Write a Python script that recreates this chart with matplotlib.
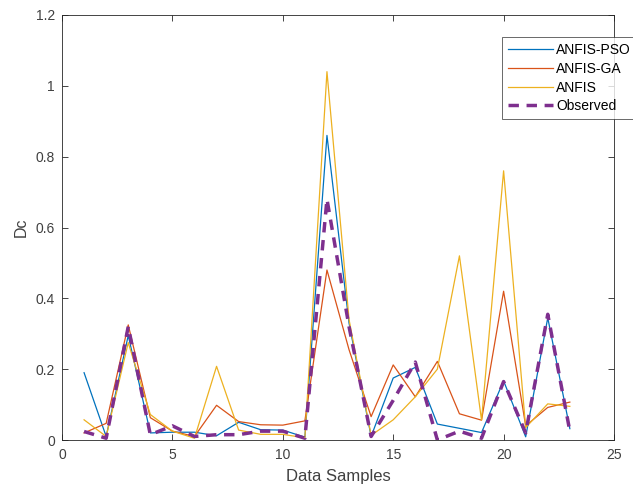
import matplotlib.pyplot as plt
from matplotlib.ticker import FuncFormatter

plt.rcParams['font.family'] = ['Liberation Sans', 'DejaVu Sans']

samples = list(range(1, 24))
anfis_pso = [0.19, 0.01, 0.295, 0.02, 0.022, 0.022, 0.012, 0.05, 0.029, 0.028, 0.008,
             0.86, 0.33, 0.01, 0.175, 0.205, 0.045, 0.033, 0.021, 0.167, 0.009, 0.345, 0.032]
anfis_ga = [0.02, 0.047, 0.325, 0.063, 0.025, 0.01, 0.098, 0.052, 0.043, 0.042, 0.054,
            0.48, 0.255, 0.066, 0.212, 0.122, 0.222, 0.074, 0.056, 0.42, 0.04, 0.092, 0.107]
anfis = [0.057, 0.01, 0.275, 0.072, 0.025, 0.005, 0.208, 0.028, 0.016, 0.016, 0.006,
         1.04, 0.34, 0.013, 0.057, 0.122, 0.2, 0.52, 0.056, 0.76, 0.035, 0.102, 0.095]
observed = [0.024, 0.005, 0.32, 0.015, 0.04, 0.01, 0.015, 0.015, 0.025, 0.025, 0.005,
            0.68, 0.32, 0.01, 0.112, 0.22, 0.0, 0.025, 0.005, 0.165, 0.02, 0.355, 0.025]

fig = plt.figure(figsize=(6.33, 4.87), dpi=100)
ax = fig.add_axes([62 / 633, 47 / 487, 552 / 633, 425 / 487])

ax.plot(samples, anfis_pso, color='#0072BD', lw=0.9, label='ANFIS-PSO')
ax.plot(samples, anfis_ga, color='#D95319', lw=0.9, label='ANFIS-GA')
ax.plot(samples, anfis, color='#EDB120', lw=0.9, label='ANFIS')
ax.plot(samples, observed, color='#7E2F8E', lw=2.5, ls=(0, (3, 2.2)), label='Observed')

ax.set_xlim(0, 25)
ax.set_ylim(0, 1.2)
ax.set_xticks([0, 5, 10, 15, 20, 25])
ax.set_yticks([0, 0.2, 0.4, 0.6, 0.8, 1.0, 1.2])
ax.yaxis.set_major_formatter(FuncFormatter(lambda v, p: ('%g' % round(v, 1))))
ax.tick_params(direction='in', length=4, width=0.6, top=True, right=True,
               labelsize=10, colors='#262626', labelcolor='#404040')
ax.tick_params(axis='x', pad=6)
ax.tick_params(axis='y', pad=5)
for s in ax.spines.values():
    s.set_linewidth(0.6)
    s.set_color('#262626')

ax.set_xlabel('Data Samples', fontsize=12, color='#404040', labelpad=5)
ax.set_ylabel('Dc', fontsize=11.5, color='#404040', labelpad=5)

# legend pushed to the right figure edge like the original (frame runs off the edge)
leg = ax.legend(loc='upper left', bbox_to_anchor=(0.797, 0.948), fontsize=10,
                frameon=True, fancybox=False, borderaxespad=0, handlelength=3.2,
                labelspacing=0.33, handletextpad=0.25, borderpad=0.45)
leg.get_frame().set_edgecolor('#262626')
leg.get_frame().set_linewidth(0.6)
leg.set_clip_on(False)

fig.savefig('out.png', dpi=100)
